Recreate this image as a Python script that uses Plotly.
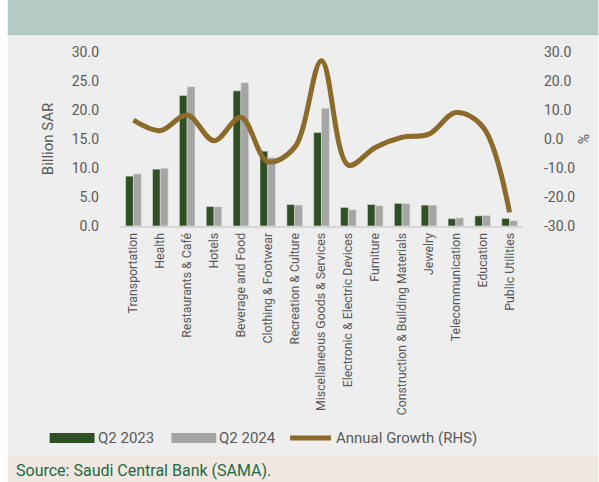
import plotly.graph_objects as go

categories = ["Transportation", "Health", "Restaurants & Café", "Hotels", "Beverage and Food",
              "Clothing & Footwear", "Recreation & Culture", "Miscellaneous Goods & Services",
              "Electronic & Electric Devices", "Furniture", "Construction & Building Materials",
              "Jewelry", "Telecommunication", "Education", "Public Utilities"]
q2_2023 = [8.6, 9.8, 22.5, 3.35, 23.3, 12.9, 3.7, 16.1, 3.2, 3.7, 3.9, 3.6, 1.25, 1.75, 1.3]
q2_2024 = [9.0, 9.95, 24.0, 3.3, 24.7, 11.8, 3.6, 20.3, 2.8, 3.5, 3.85, 3.6, 1.4, 1.8, 0.9]
annual_growth = [6.5, 2.9, 8.3, -0.6, 7.5, -7.8, -2.9, 27.0, -9.0, -2.9, 0.6, 1.7, 9.1, 4.3, -25.3]
left_ticks = [0, 5, 10, 15, 20, 25, 30]
right_ticks = [-30, -20, -10, 0, 10, 20, 30]

W, H = 599, 482
L, R, T, B = 119.5, 75.5, 52, 256
pw, ph = W - L - R, H - T - B

def px(x):
    return (x - L) / pw

def py(y):
    return 1 - (y - T) / ph

GREEN = "#2f4f24"
GRAY = "#a5a5a5"
BROWN = "#8b6a2a"
TXT = "#595959"
FONT = "Roboto"

fig = go.Figure()
fig.add_trace(go.Bar(x=categories, y=q2_2023, name="Q2 2023", marker=dict(color=GREEN, line=dict(width=0.6, color="#dcdcdc"))))
fig.add_trace(go.Bar(x=categories, y=q2_2024, name="Q2 2024", marker=dict(color=GRAY, line=dict(width=0.6, color="#dcdcdc"))))
fig.add_trace(go.Scatter(x=categories, y=annual_growth, name="Annual Growth (RHS)", yaxis="y2",
                         mode="lines", line=dict(color=BROWN, width=5, shape="spline", smoothing=1.0)))

shapes = [
    dict(type="rect", xref="paper", yref="paper", x0=px(7), x1=px(W), y0=py(0), y1=py(35),
         fillcolor="#b4ccc5", line=dict(width=0), layer="below"),
    dict(type="line", xref="paper", yref="paper", x0=px(7), x1=px(W), y0=py(35), y1=py(35),
         line=dict(color="#9db8b0", width=1), layer="below"),
    dict(type="rect", xref="paper", yref="paper", x0=px(7), x1=px(W), y0=py(35), y1=py(456),
         fillcolor="#eeeeee", line=dict(width=0), layer="below"),
    dict(type="rect", xref="paper", yref="paper", x0=px(7), x1=px(W), y0=py(456), y1=py(H),
         fillcolor="#f0e8e0", line=dict(width=0), layer="below"),
]
annotations = []
# custom legend
leg_y = 438
items = [(49, 94, GREEN, "Q2 2023", "rect"), (171, 216, GRAY, "Q2 2024", "rect"),
         (288, 333, BROWN, "Annual Growth (RHS)", "line")]
for x0, x1, col, label, kind in items:
    if kind == "rect":
        shapes.append(dict(type="rect", xref="paper", yref="paper", x0=px(x0), x1=px(x1),
                           y0=py(leg_y + 5), y1=py(leg_y - 5), fillcolor=col, line=dict(width=0)))
    else:
        shapes.append(dict(type="line", xref="paper", yref="paper", x0=px(x0 + 2), x1=px(x1 - 2),
                           y0=py(leg_y), y1=py(leg_y), line=dict(color=col, width=5)))
    annotations.append(dict(text=label, xref="paper", yref="paper", x=px(x1 + 1), y=py(leg_y),
                            xanchor="left", yanchor="middle", showarrow=False,
                            font=dict(family=FONT, size=15, color=TXT)))
annotations.append(dict(text="Source: Saudi Central Bank (SAMA).", xref="paper", yref="paper",
                        x=px(13), y=py(470), xanchor="left", yanchor="middle", showarrow=False,
                        font=dict(family=FONT, size=16, color="#1a6a48")))

fig.update_layout(
    width=W, height=H,
    margin=dict(l=L, r=R, t=T, b=B, pad=0),
    paper_bgcolor="white", plot_bgcolor="rgba(0,0,0,0)",
    barmode="group", bargap=0.42, bargroupgap=0,
    showlegend=False,
    font=dict(family=FONT, color=TXT),
    xaxis=dict(showline=True, linecolor="#d6d6d6", linewidth=2, showgrid=False, ticks="",
               tickangle=-90, tickfont=dict(size=12.3, color=TXT), automargin=False),
    yaxis=dict(range=[0, 30], tickvals=left_ticks, ticktext=[f"{v:.1f}" for v in left_ticks],
               showgrid=False, zeroline=False, tickfont=dict(size=14, color=TXT),
               ticklabelstandoff=20, automargin=False,
               title=dict(text="Billion SAR", font=dict(size=15, color=TXT), standoff=14)),
    yaxis2=dict(range=[-30, 30], overlaying="y", side="right", tickvals=right_ticks,
                ticktext=[f"{v:.1f}" for v in right_ticks], showgrid=False, zeroline=False,
                tickfont=dict(size=14, color=TXT), ticklabelstandoff=20, automargin=False,
                title=dict(text="%", font=dict(size=14, color=TXT), standoff=4)),
    shapes=shapes, annotations=annotations,
)
fig.write_html("out.html")
